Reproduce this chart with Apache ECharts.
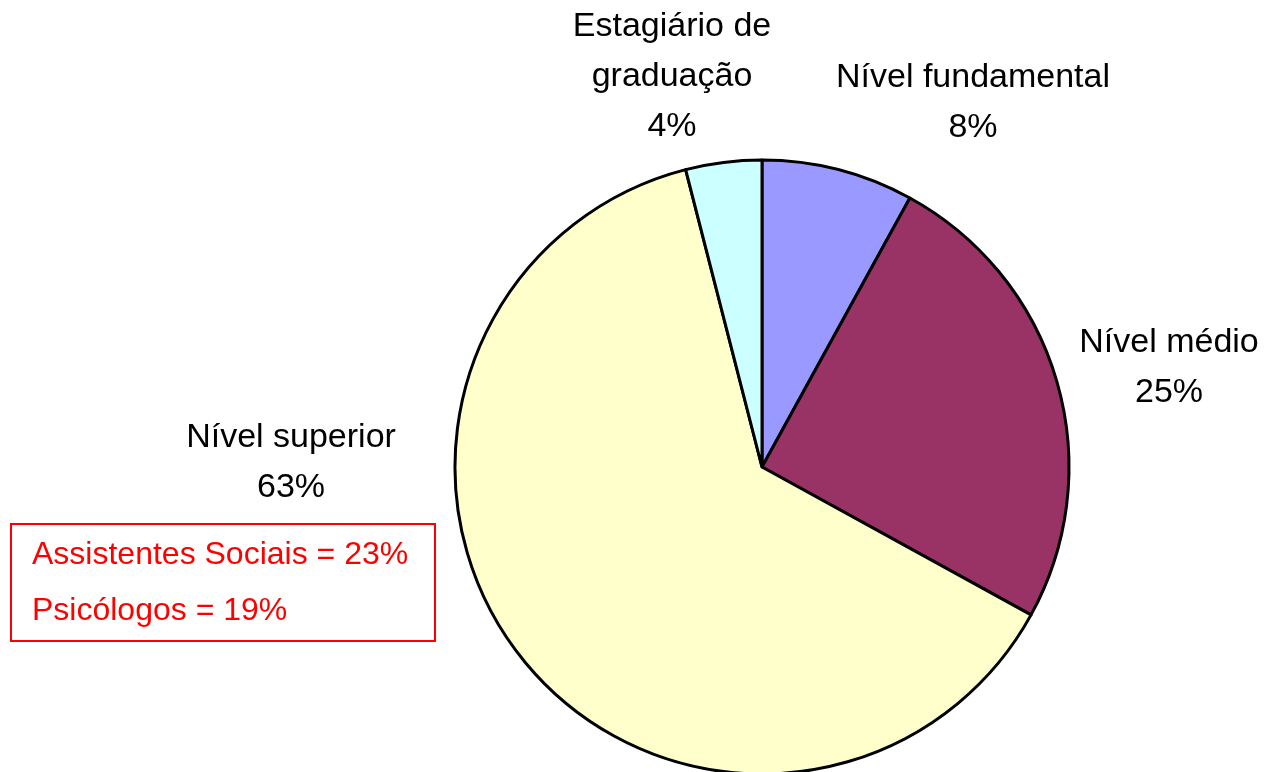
<!DOCTYPE html>
<html lang="pt">
<head>
    <meta charset="UTF-8">
    <title>Nível de escolaridade</title>
    <style>
        html, body { margin: 0; padding: 0; background: #fff; }
        #main { width: 1264px; height: 772px; }
    </style>
</head>
<body>
<div id="main"></div>
<script src="https://cdn.jsdelivr.net/npm/echarts@6/dist/echarts.min.js"></script>
<script>
    // dados
    var categorias = ['Nível fundamental', 'Nível médio', 'Nível superior', 'Estagiário de\ngraduação'];
    var valores = [8, 25, 63, 4];
    var cores = ['#9999FF', '#993366', '#FFFFCC', '#CCFFFF'];
    var notas = ['Assistentes Sociais = 23%', 'Psicólogos = 19%'];

    // onde ficam os rótulos (centro do bloco de texto)
    var posRotulo = [[973, 103], [1169, 368], [291, 463], [672, 77]];

    var myChart = echarts.init(document.getElementById('main'));

    var option = {
        backgroundColor: '#ffffff',
        animation: false,
        textStyle: { fontFamily: 'Liberation Sans, Arial, sans-serif' },
        series: [{
            type: 'pie',
            center: [762, 467],
            radius: 307,
            startAngle: 90,
            clockwise: true,
            avoidLabelOverlap: false,
            data: categorias.map(function (nome, i) {
                return { name: nome, value: valores[i], itemStyle: { color: cores[i] } };
            }),
            itemStyle: {
                borderColor: '#000000',
                borderWidth: 3
            },
            label: {
                show: true,
                position: 'outside',
                formatter: '{b}\n{d}%',
                fontSize: 34,
                lineHeight: 50,
                color: '#000000',
                fontFamily: 'Liberation Sans, Arial, sans-serif'
            },
            labelLine: { show: false },
            labelLayout: function (params) {
                var p = posRotulo[params.dataIndex];
                return { x: p[0], y: p[1], align: 'center', verticalAlign: 'middle' };
            },
            emphasis: { disabled: true }
        }],
        graphic: [{
            type: 'rect',
            shape: { x: 11, y: 524, width: 424, height: 117 },
            style: { fill: '#ffffff', stroke: '#ff0000', lineWidth: 2 }
        }, {
            type: 'text',
            x: 32, y: 555,
            style: {
                text: notas[0], fill: '#ff0000', font: '32px Liberation Sans, Arial, sans-serif',
                verticalAlign: 'middle'
            }
        }, {
            type: 'text',
            x: 32, y: 611,
            style: {
                text: notas[1], fill: '#ff0000', font: '32px Liberation Sans, Arial, sans-serif',
                verticalAlign: 'middle'
            }
        }]
    };

    myChart.setOption(option);
</script>
</body>
</html>
